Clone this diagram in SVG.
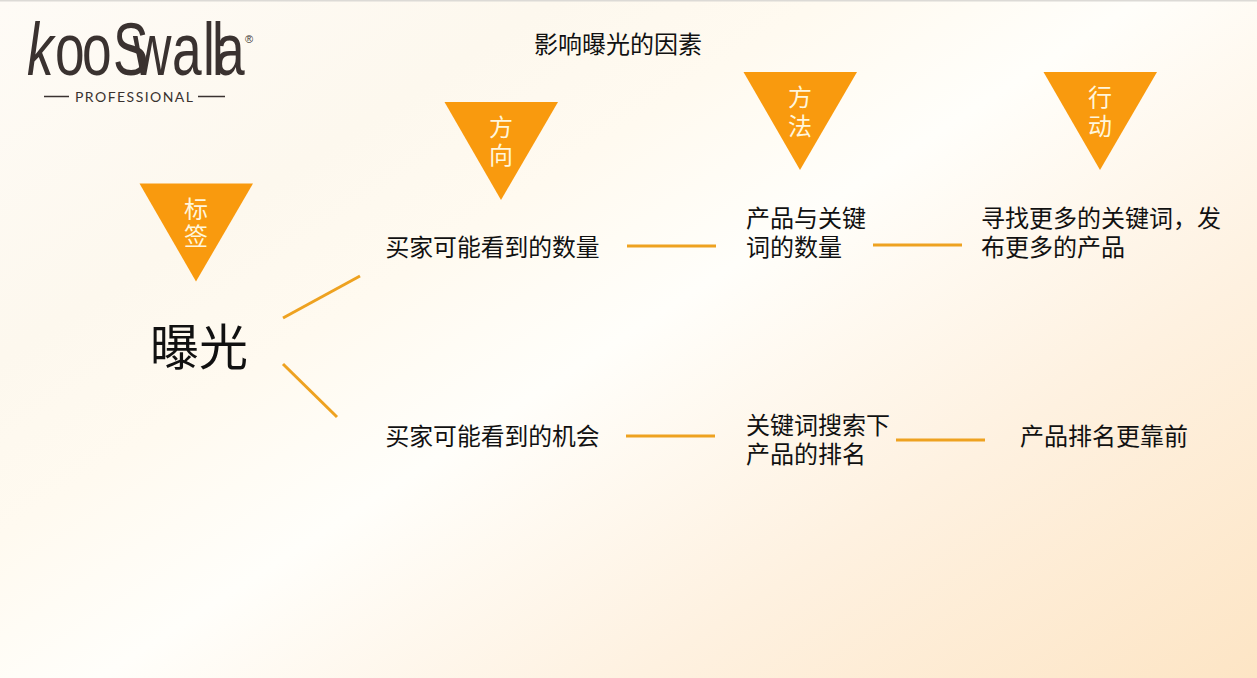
<svg xmlns="http://www.w3.org/2000/svg" width="1257" height="678" viewBox="0 0 1257 678">
<defs>
<linearGradient id="bg" gradientUnits="userSpaceOnUse" x1="0" y1="0" x2="683" y2="1050">
<stop offset="0" stop-color="#fefbf6"/><stop offset="0.24" stop-color="#fdf8ee"/><stop offset="0.36" stop-color="#fffaf0"/><stop offset="0.497" stop-color="#fffefa"/><stop offset="0.73" stop-color="#fef1e0"/><stop offset="1" stop-color="#fde5c5"/>
</linearGradient>
<polygon id="tri" points="-56.500,0 57,0 0,98" fill="#f99a0e"/>
</defs>
<style>
text{font-family:"Noto Sans CJK SC","Liberation Sans",sans-serif;fill:#111}
.t{font-size:24px}
.n{font-size:23.800px}
.w{font-size:24px;fill:#fff6dc;text-anchor:middle}
.l{stroke:#eea220;stroke-width:3;fill:none}
.g{font-family:"Liberation Sans",sans-serif;fill:#3a3230}
</style>
<rect width="1257" height="678" fill="url(#bg)"/>
<rect width="1257" height="1.500" fill="#dcdad6"/>
<g id="logo">
<text class="g" font-size="74" transform="translate(0 75) scale(0.72 1)" x="37.500 76.400 113.900 156.900 184.700 238.900 281.900 294.400 298.600" y="0"><tspan font-style="italic">k</tspan>ooSwalla</text>
<text class="g" x="245" y="43" font-size="11">®</text>
<text class="g" x="75" y="102" font-size="14" textLength="118" lengthAdjust="spacing" style="font-family:'Lato',sans-serif">PROFESSIONAL</text>
<path d="M44 96.500H69M198 96.500H225" stroke="#3a3230" stroke-width="1.300"/>
</g>
<g id="title"><text class="t" x="534" y="53">影响曝光的因素</text></g>
<g id="tag-biaoqian"><use href="#tri" x="196" y="183.500"/><text class="w" x="196" y="218">标<tspan x="196" dy="27">签</tspan></text></g>
<g id="tag-fangxiang"><use href="#tri" x="501" y="102"/><text class="w" x="501" y="136">方<tspan x="501" dy="28">向</tspan></text></g>
<g id="tag-fangfa"><use href="#tri" x="800" y="72"/><text class="w" x="800" y="106">方<tspan x="800" dy="29">法</tspan></text></g>
<g id="tag-xingdong"><use href="#tri" x="1100" y="72"/><text class="w" x="1100" y="106">行<tspan x="1100" dy="29">动</tspan></text></g>
<g id="node-baoguang"><text x="150" y="365" font-size="49">曝光</text></g>
<g id="node-a1"><text class="n" x="385.500" y="256">买家可能看到的数量</text></g>
<g id="node-a2"><text class="t" x="746" y="227">产品与关键<tspan x="746" dy="29">词的数量</tspan></text></g>
<g id="node-a3"><text class="t" x="981" y="227">寻找更多的关键词，发<tspan x="981" dy="29">布更多的产品</tspan></text></g>
<g id="node-b1"><text class="n" x="385.500" y="445">买家可能看到的机会</text></g>
<g id="node-b2"><text class="t" x="746" y="434">关键词搜索下<tspan x="746" dy="29">产品的排名</tspan></text></g>
<g id="node-b3"><text class="t" x="1020" y="445">产品排名更靠前</text></g>
<g id="connectors">
<path class="l" d="M283 318L360 276"/>
<path class="l" d="M283 364L337 417"/>
<path class="l" d="M627 246H716"/>
<path class="l" d="M873 245H962"/>
<path class="l" d="M626 436H715"/>
<path class="l" d="M896 440H985"/>
</g>
</svg>
